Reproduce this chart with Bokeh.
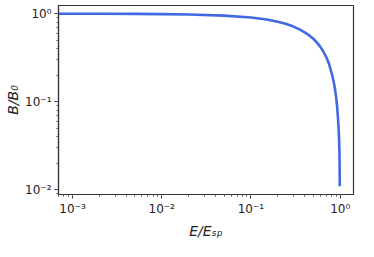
from bokeh.plotting import figure
from bokeh.models import ColumnDataSource, LogTicker
from bokeh.embed import file_html
from bokeh.resources import INLINE

# Values
e_ratio = [0.0006, 0.001, 0.002, 0.005, 0.01, 0.02, 0.05, 0.1, 0.15, 0.2, 0.25, 0.3, 0.35,
           0.4, 0.45, 0.5, 0.55, 0.6, 0.65, 0.7, 0.75, 0.8, 0.85, 0.88, 0.9, 0.92, 0.93,
           0.94, 0.95, 0.96, 0.97, 0.975, 0.98, 0.985, 0.989]
b_ratio = [0.999, 0.999, 0.998, 0.995, 0.99, 0.98, 0.952, 0.905, 0.858, 0.81, 0.763, 0.715, 0.665,
           0.615, 0.567, 0.52, 0.47, 0.42, 0.37, 0.32, 0.268, 0.215, 0.165, 0.134, 0.113, 0.092, 0.081,
           0.07, 0.06, 0.05, 0.04, 0.034, 0.028, 0.02, 0.011]

x_tick_labels = {0.001: "10⁻³", 0.01: "10⁻²", 0.1: "10⁻¹", 1: "10⁰"}
y_tick_labels = {0.01: "10⁻²", 0.1: "10⁻¹", 1: "10⁰"}

src = ColumnDataSource(data=dict(x=e_ratio, y=b_ratio))

p = figure(width=358, height=241, x_axis_type="log", y_axis_type="log",
           x_range=(6.97e-4, 1.41), y_range=(0.00885, 1.24),
           output_backend="svg", toolbar_location=None,
           min_border_left=58, min_border_right=5, min_border_top=5, min_border_bottom=47)

p.line("x", "y", source=src, line_color="#4169E1", line_width=2.6, line_join="round")

p.xgrid.visible = False
p.ygrid.visible = False
p.outline_line_color = "#333333"
p.outline_line_width = 1.2
p.background_fill_color = "white"
p.border_fill_color = "white"

for ax in (p.xaxis[0], p.yaxis[0]):
    ax.ticker = LogTicker(num_minor_ticks=10)
    ax.axis_line_color = "#333333"
    ax.axis_line_width = 1.2
    ax.major_tick_line_color = "#333333"
    ax.minor_tick_line_color = "#555555"
    ax.major_tick_in = 0
    ax.major_tick_out = 4
    ax.minor_tick_in = 0
    ax.minor_tick_out = 2
    ax.major_label_text_font = "DejaVu Sans"
    ax.major_label_text_font_size = "12px"
    ax.major_label_text_color = "#222222"
    ax.axis_label_text_font = "DejaVu Sans"
    ax.axis_label_text_font_size = "14px"
    ax.axis_label_text_font_style = "italic"
    ax.axis_label_text_color = "#222222"
    ax.major_label_standoff = 3

p.xaxis[0].major_label_overrides = x_tick_labels
p.yaxis[0].major_label_overrides = y_tick_labels
p.xaxis[0].axis_label = "E/Eₛₚ"
p.yaxis[0].axis_label = "B/B₀"
p.xaxis[0].axis_label_standoff = 4
p.yaxis[0].axis_label_standoff = 1

open("out.html", "w").write(file_html(p, INLINE))
